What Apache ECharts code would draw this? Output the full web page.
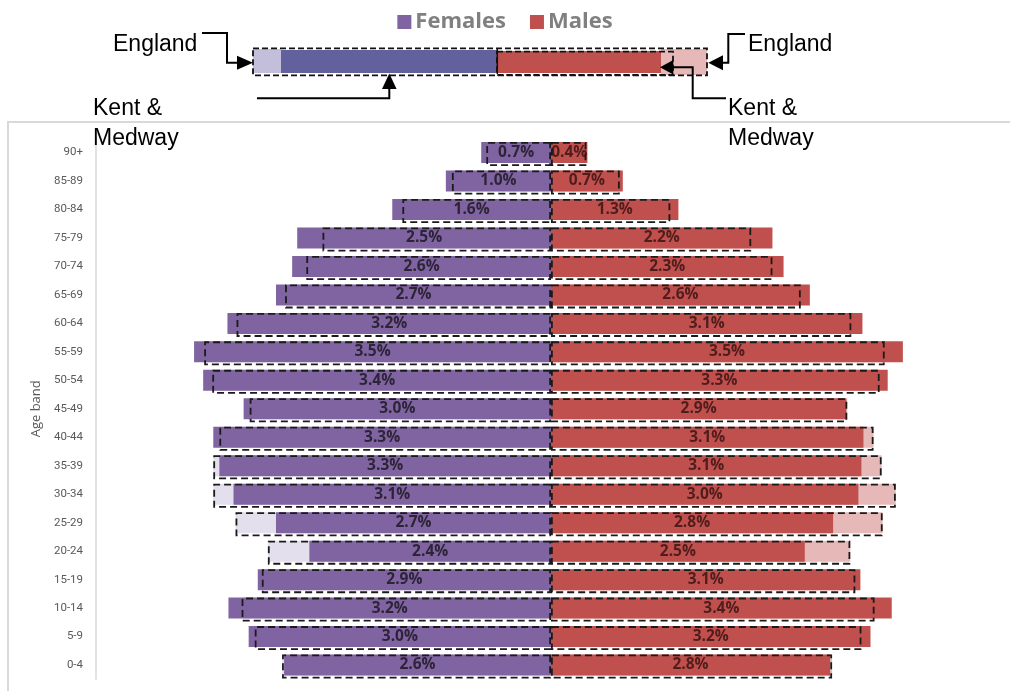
<!DOCTYPE html>
<html>
<head>
<meta charset="utf-8">
<script src="https://cdn.jsdelivr.net/npm/echarts@6/dist/echarts.min.js"></script>
<style>
html,body{margin:0;padding:0;background:#fff;}
#chart{width:1010px;height:691px;}
</style>
</head>
<body>
<div id="chart"></div>
<script>
// Age bands, bottom (youngest) to top (oldest)
const categories = ['0-4','5-9','10-14','15-19','20-24','25-29','30-34','35-39','40-44','45-49','50-54','55-59','60-64','65-69','70-74','75-79','80-84','85-89','90+'];
// Percentage of population, Kent & Medway
const kentFemales = [2.64, 2.99, 3.19, 2.90, 2.39, 2.72, 3.14, 3.28, 3.34, 3.04, 3.44, 3.53, 3.20, 2.72, 2.56, 2.51, 1.57, 1.04, 0.69];
const kentMales   = [2.76, 3.16, 3.37, 3.06, 2.51, 2.79, 3.04, 3.07, 3.09, 2.92, 3.33, 3.48, 3.08, 2.56, 2.30, 2.19, 1.26, 0.71, 0.36];
// Percentage of population, England
const englandFemales = [2.66, 2.93, 3.06, 2.86, 2.80, 3.12, 3.34, 3.34, 3.28, 2.98, 3.35, 3.43, 3.11, 2.63, 2.42, 2.26, 1.47, 0.98, 0.64];
const englandMales   = [2.78, 3.07, 3.20, 3.01, 2.96, 3.28, 3.41, 3.27, 3.19, 2.93, 3.25, 3.30, 2.97, 2.47, 2.19, 1.98, 1.18, 0.68, 0.35];
const legendNames = ['Females', 'Males'];

const neg = a => a.map(v => -v);
const PURPLE = '#8064a2', RED = '#c0504d';
const LPURPLE = '#e4dfec', LRED = '#e6b9b8';
const dashBorder = { color: 'rgba(0,0,0,0)', borderColor: '#1a1a1a', borderWidth: 1.8, borderType: [7, 4] };
const labelFmt = p => Math.abs(p.value).toFixed(1) + '%';

const chart = echarts.init(document.getElementById('chart'), null, { renderer: 'canvas' });

const AR = '#000';
const txt = (x, y, s, align) => ({ type: 'text', x: x, y: y, silent: true, z: 10,
  style: { text: s, font: '23px "Liberation Sans", Arial, sans-serif', fill: '#000', textAlign: align || 'left', textVerticalAlign: 'middle' } });
const line = pts => ({ type: 'polyline', silent: true, z: 10, shape: { points: pts }, style: { stroke: AR, lineWidth: 2, fill: null } });
const tri = pts => ({ type: 'polygon', silent: true, z: 10, shape: { points: pts }, style: { fill: AR } });

const option = {
  animation: false,
  backgroundColor: '#fff',
  legend: {
    data: legendNames,
    left: 'center', top: 6,
    icon: 'rect', itemWidth: 14, itemHeight: 14, itemGap: 24,
    selectedMode: false,
    textStyle: { fontFamily: '"Open Sans", sans-serif', fontSize: 22, fontWeight: 'bold', color: '#808080', padding: [0, 0, 0, -1] }
  },
  grid: { left: 96, right: 4, top: 138.3, bottom: 11.7, containLabel: false },
  xAxis: { type: 'value', min: -4.5, max: 4.5, show: false, splitLine: { show: false } },
  yAxis: {
    type: 'category', data: categories,
    axisLine: { onZero: false, lineStyle: { color: '#d9d9d9', width: 1.5 } },
    axisTick: { show: false },
    axisLabel: { color: '#595959', fontSize: 11.5, fontFamily: '"Liberation Sans Narrow", Roboto, sans-serif', margin: 13 },
    name: 'Age band', nameLocation: 'middle', nameGap: 52, nameRotate: 90,
    nameTextStyle: { color: '#595959', fontSize: 13, fontFamily: '"Open Sans", sans-serif' }
  },
  series: [
    { name: 'England F outline', type: 'bar', data: neg(englandFemales), barWidth: 24, barGap: '-100%', z: 4, silent: true, itemStyle: dashBorder },
    { name: 'England M outline', type: 'bar', data: englandMales, barWidth: 24, barGap: '-100%', z: 4, silent: true, itemStyle: dashBorder },
    { name: 'England F', type: 'bar', data: neg(englandFemales), barWidth: 21, barGap: '-100%', silent: true, itemStyle: { color: LPURPLE } },
    { name: 'England M', type: 'bar', data: englandMales, barWidth: 21, barGap: '-100%', silent: true, itemStyle: { color: LRED } },
    { name: 'Females', type: 'bar', data: neg(kentFemales), barWidth: 21, barGap: '-100%', silent: true, itemStyle: { color: PURPLE },
      label: { show: true, position: 'inside', formatter: labelFmt, color: '#2d2438', fontSize: 15.5, fontWeight: 'bold', fontFamily: '"Open Sans", sans-serif' } },
    { name: 'Males', type: 'bar', data: kentMales, barWidth: 21, barGap: '-100%', silent: true, itemStyle: { color: RED },
      label: { show: true, position: 'inside', formatter: labelFmt, color: '#4f1d1c', fontSize: 15.5, fontWeight: 'bold', fontFamily: '"Open Sans", sans-serif' } }
  ],
  graphic: [
    // chart frame
    { type: 'polyline', silent: true, shape: { points: [[8, 691], [8, 122], [1010, 122]] }, style: { stroke: '#d9d9d9', lineWidth: 2, fill: null } },
    // key illustration
    { type: 'rect', silent: true, z: 9, shape: { x: 253, y: 49, width: 28, height: 24 }, style: { fill: '#c3bfdb' } },
    { type: 'rect', silent: true, z: 9, shape: { x: 281, y: 50, width: 216, height: 23 }, style: { fill: '#63609e' } },
    { type: 'rect', silent: true, z: 9, shape: { x: 661, y: 49, width: 46, height: 26 }, style: { fill: '#e6b9b8' } },
    { type: 'rect', silent: true, z: 9, shape: { x: 497, y: 51, width: 164, height: 22 }, style: { fill: '#c0504d' } },
    { type: 'rect', silent: true, z: 10, shape: { x: 253, y: 48.3, width: 454, height: 27 }, style: { fill: null, stroke: '#111', lineWidth: 1.8, lineDash: [6, 3] } },
    { type: 'rect', silent: true, z: 10, shape: { x: 497, y: 51.7, width: 176, height: 23.3 }, style: { fill: null, stroke: '#111', lineWidth: 1.8, lineDash: [6, 3] } },
    { type: 'line', silent: true, z: 10, shape: { x1: 497.3, y1: 49, x2: 497.3, y2: 74 }, style: { stroke: '#111', lineWidth: 1.5 } },
    // left England
    txt(113, 45, 'England'),
    line([[202, 33], [227, 33], [227, 62.7], [240, 62.7]]),
    tri([[253, 62.7], [237, 55.7], [237, 69.7]]),
    // left Kent & Medway
    txt(93, 109, 'Kent &'),
    txt(93, 139, 'Medway'),
    line([[257, 98.3], [389.3, 98.3], [389.3, 86]]),
    tri([[389.3, 73.5], [382, 89], [396.6, 89]]),
    // right England
    txt(748, 45, 'England'),
    line([[745, 34], [728.3, 34], [728.3, 62.7], [720, 62.7]]),
    tri([[708.3, 62.7], [723, 55.2], [723, 70.2]]),
    // right Kent & Medway
    txt(728, 109, 'Kent &'),
    txt(728, 139, 'Medway'),
    line([[726, 98.3], [692.7, 98.3], [692.7, 67.3], [670, 67.3]]),
    tri([[660, 67.3], [673.3, 60], [673.3, 74.6]])
  ]
};
chart.setOption(option);
</script>
</body>
</html>
